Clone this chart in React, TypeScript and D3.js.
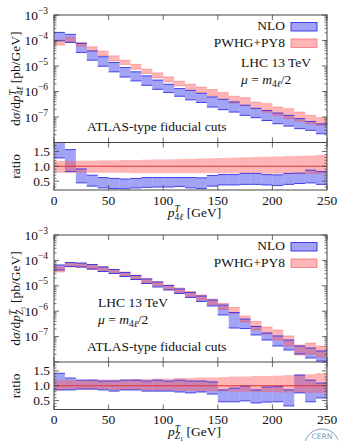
import React from "react";
import * as d3 from "d3";

/* ------------------------------------------------------------------ */
/*  Data (bins of 10 GeV)                     */
/* ------------------------------------------------------------------ */

const binEdges = [0, 10, 20, 30, 40, 50, 60, 70, 80, 90, 100, 110, 120, 130, 140, 150, 160, 170, 180, 190, 200, 210, 220, 230, 240, 250];

// pT of the 4-lepton system
const nloHi4l = [2.08e-4, 1.74e-4, 7.7e-5, 3.9e-5, 2.3e-5, 1.37e-5, 8.7e-6, 5.9e-6, 4.1e-6, 2.8e-6, 1.92e-6, 1.3e-6, 1.11e-6, 8.5e-7, 6.1e-7, 4.9e-7, 3.9e-7, 2.9e-7, 2.2e-7, 1.8e-7, 1.43e-7, 1.16e-7, 8.6e-8, 6.7e-8, 5.4e-8];
const nloLo4l = [9.7e-5, 8.4e-5, 3.4e-5, 1.69e-5, 9.8e-6, 5.9e-6, 3.7e-6, 2.6e-6, 1.75e-6, 1.22e-6, 9.1e-7, 6.5e-7, 4.7e-7, 3.7e-7, 2.45e-7, 1.94e-7, 1.56e-7, 1.16e-7, 9.4e-8, 7.3e-8, 5.45e-8, 4.4e-8, 3.5e-8, 3.0e-8, 2.2e-8];
const pwHi4l = [1.04e-4, 1.32e-4, 8.4e-5, 5.65e-5, 3.83e-5, 2.5e-5, 1.69e-5, 1.15e-5, 7.5e-6, 5.35e-6, 3.72e-6, 2.52e-6, 1.92e-6, 1.5e-6, 1.19e-6, 9.1e-7, 6.5e-7, 5.75e-7, 3.86e-7, 3.34e-7, 2.45e-7, 2.12e-7, 1.56e-7, 1.16e-7, 9.4e-8];
const pwLo4l = [6.6e-5, 8.4e-5, 6.0e-5, 3.83e-5, 2.5e-5, 1.59e-5, 1.15e-5, 7.5e-6, 5.07e-6, 3.4e-6, 2.37e-6, 1.65e-6, 1.22e-6, 9.1e-7, 6.5e-7, 5.25e-7, 3.53e-7, 2.86e-7, 2.12e-7, 1.56e-7, 1.16e-7, 8.6e-8, 6.9e-8, 5.45e-8, 4.67e-8];
const nloRatioHi4l = [1.95, 1.56, 0.91, 0.7, 0.62, 0.59, 0.57, 0.59, 0.62, 0.62, 0.62, 0.62, 0.62, 0.61, 0.69, 0.72, 0.72, 0.76, 0.76, 0.72, 0.71, 0.76, 0.77, 0.87, 0.82];
const nloRatioLo4l = [1.28, 0.82, 0.44, 0.33, 0.27, 0.25, 0.24, 0.27, 0.29, 0.3, 0.3, 0.32, 0.27, 0.25, 0.33, 0.37, 0.37, 0.39, 0.39, 0.37, 0.35, 0.39, 0.42, 0.44, 0.39];
const pwRatioHi4l = [1.18, 1.18, 1.19, 1.19, 1.2, 1.2, 1.21, 1.21, 1.22, 1.23, 1.23, 1.24, 1.25, 1.26, 1.27, 1.28, 1.29, 1.3, 1.31, 1.32, 1.33, 1.34, 1.35, 1.36, 1.38];
const pwRatioLo4l = [0.78, 0.78, 0.78, 0.78, 0.78, 0.78, 0.78, 0.77, 0.77, 0.77, 0.77, 0.77, 0.77, 0.77, 0.77, 0.76, 0.76, 0.76, 0.76, 0.75, 0.75, 0.75, 0.74, 0.74, 0.73];

// pT of the leading Z boson
const nloHiZ1 = [6.6e-5, 8.3e-5, 7.9e-5, 6.9e-5, 5.5e-5, 4.4e-5, 3.34e-5, 2.55e-5, 1.85e-5, 1.41e-5, 1.03e-5, 7.5e-6, 5.45e-6, 3.97e-6, 2.76e-6, 1.75e-6, 8.9e-7, 4.9e-7, 2.5e-7, 1.39e-7, 1.06e-7, 7.35e-8, 4.27e-8, 3.56e-8, 2.71e-8];
const nloLoZ1 = [4.19e-5, 5.75e-5, 5.5e-5, 4.58e-5, 3.66e-5, 3.05e-5, 2.32e-5, 1.77e-5, 1.23e-5, 8.97e-6, 6.84e-6, 4.98e-6, 3.46e-6, 2.41e-6, 1.6e-6, 7.1e-7, 2.18e-7, 2.08e-7, 1.16e-7, 7.35e-8, 4.27e-8, 2.97e-8, 2.07e-8, 1.44e-8, 1.09e-8];
const pwHiZ1 = [5.5e-5, 7.9e-5, 7.55e-5, 6.59e-5, 5.75e-5, 4.38e-5, 3.49e-5, 2.66e-5, 1.94e-5, 1.48e-5, 1.07e-5, 8.19e-6, 5.97e-6, 4.35e-6, 3.02e-6, 2.01e-6, 1.4e-6, 6.47e-7, 3.93e-7, 2.39e-7, 1.82e-7, 1.06e-7, 4.67e-8, 5.6e-8, 4.27e-8];
const pwLoZ1 = [3.49e-5, 5.5e-5, 5.25e-5, 4.38e-5, 3.83e-5, 3.05e-5, 2.43e-5, 1.85e-5, 1.29e-5, 9.8e-6, 7.15e-6, 5.45e-6, 3.79e-6, 2.76e-6, 1.84e-6, 1.17e-6, 8.11e-7, 3.76e-7, 1.82e-7, 1.26e-7, 7.35e-8, 4.27e-8, 1.89e-8, 2.07e-8, 1.57e-8];
const nloRatioHiZ1 = [1.42, 1.26, 1.19, 1.19, 1.16, 1.16, 1.19, 1.19, 1.16, 1.19, 1.16, 1.19, 1.16, 1.16, 1.13, 0.86, 0.92, 0.99, 0.86, 0.96, 0.97, 0.86, 1.36, 1.19, 1.09];
const nloRatioLoZ1 = [0.86, 0.86, 0.89, 0.89, 0.86, 0.82, 0.86, 0.86, 0.82, 0.82, 0.82, 0.79, 0.76, 0.79, 0.72, 0.46, 0.46, 0.49, 0.42, 0.45, 0.46, 0.32, 0.76, 0.46, 0.59];
const pwRatioHiZ1 = [1.19, 1.19, 1.19, 1.21, 1.21, 1.21, 1.21, 1.23, 1.23, 1.24, 1.24, 1.26, 1.26, 1.28, 1.28, 1.29, 1.31, 1.31, 1.33, 1.33, 1.34, 1.36, 1.38, 1.39, 1.43];
const pwRatioLoZ1 = [0.84, 0.86, 0.86, 0.86, 0.86, 0.85, 0.85, 0.85, 0.84, 0.84, 0.84, 0.83, 0.83, 0.82, 0.82, 0.81, 0.8, 0.8, 0.79, 0.79, 0.78, 0.77, 0.77, 0.76, 0.76];

const xTicks = [0, 50, 100, 150, 200, 250];
const logTickExps = [-7, -6, -5, -4, -3];
const ratioTicks = [0.5, 1.0, 1.5];
const ratioMinor = [0.3, 0.4, 0.6, 0.7, 0.8, 0.9, 1.1, 1.2, 1.3, 1.4, 1.6, 1.7];

/* ------------------------------------------------------------------ */
/*  Layout / style                                                    */
/* ------------------------------------------------------------------ */

const W = 338;
const H = 441;
const FONT = "'Liberation Serif', 'Times New Roman', serif";
const FS = 13.5;
const SS = 9.5;
const FRAME = "#444";
const BLUE_FILL = "rgba(70,70,240,0.5)";
const BLUE_EDGE = "#3232e6";
const RED_FILL = "rgba(255,90,90,0.45)";
const RED_EDGE = "rgba(240,70,70,0.5)";

const x = d3.scaleLinear().domain([0, 250]).range([54, 327]);

type Series = {
  nloHi: number[];
  nloLo: number[];
  pwHi: number[];
  pwLo: number[];
  nloRHi: number[];
  nloRLo: number[];
  pwRHi: number[];
  pwRLo: number[];
};

/** Sub/superscript decoration "^T_{4ℓ}" or "^T_{Z1}"; returns to baseline at end. */
function Decor({ obs }: { obs: "4l" | "Z1" }) {
  if (obs === "4l") {
    return (
      <>
        <tspan fontSize={SS} fontStyle="italic" dy={-4.5}>T</tspan>
        <tspan fontSize={SS} dx={-5.3} dy={7.5}>4</tspan>
        <tspan fontSize={SS} fontStyle="italic">ℓ</tspan>
        <tspan dy={-3}>{" "}</tspan>
      </>
    );
  }
  return (
    <>
      <tspan fontSize={SS} fontStyle="italic" dy={-4.5}>T</tspan>
      <tspan fontSize={SS} fontStyle="italic" dx={-5.3} dy={7.5}>Z</tspan>
      <tspan fontSize={6.5} dy={1.5}>1</tspan>
      <tspan dy={-4.5}>{" "}</tspan>
    </>
  );
}

function Panel({ id, top, mid, bottom, s, obs, lhcX, lhcY }: {
  id: string; top: number; mid: number; bottom: number; s: Series; obs: "4l" | "Z1"; lhcX: number; lhcY: number;
}) {
  const y = d3.scaleLog().domain([1e-8, 1e-3]).range([mid, top]);
  const yr = d3.scaleLinear().domain([0.2, 1.8]).range([bottom, mid]);
  const L = x(0);
  const R = x(250);
  const bins = binEdges.slice(0, -1).map((e, i) => ({ x0: x(e), x1: x(binEdges[i + 1]), i }));

  const minorLog: number[] = [];
  for (let d = -8; d < -3; d++) for (let k = 2; k <= 9; k++) minorLog.push(k * Math.pow(10, d));

  const band = (hi: number[], lo: number[], sc: (v: number) => number, fill: string) =>
    bins.map((b) => (
      <rect key={b.i} x={b.x0} width={b.x1 - b.x0} y={sc(hi[b.i])} height={sc(lo[b.i]) - sc(hi[b.i])} fill={fill} />
    ));
  const edges = (hi: number[], lo: number[], sc: (v: number) => number, stroke: string, w: number) =>
    bins.map((b) => (
      <g key={b.i}>
        <line x1={b.x0} x2={b.x1} y1={sc(hi[b.i])} y2={sc(hi[b.i])} stroke={stroke} strokeWidth={w} />
        <line x1={b.x0} x2={b.x1} y1={sc(lo[b.i])} y2={sc(lo[b.i])} stroke={stroke} strokeWidth={w} />
      </g>
    ));

  return (
    <g fontFamily={FONT} fontSize={FS} fill="#111">
      <defs>
        <clipPath id={`${id}-main`}><rect x={L} y={top} width={R - L} height={mid - top} /></clipPath>
        <clipPath id={`${id}-ratio`}><rect x={L} y={mid} width={R - L} height={bottom - mid} /></clipPath>
      </defs>

      {/* Main panel bands */}
      <g clipPath={`url(#${id}-main)`}>
        {band(s.nloHi, s.nloLo, y, BLUE_FILL)}
        {band(s.pwHi, s.pwLo, y, RED_FILL)}
        {edges(s.pwHi, s.pwLo, y, RED_EDGE, 0.7)}
        {edges(s.nloHi, s.nloLo, y, BLUE_EDGE, 0.9)}
      </g>

      {/* Ratio panel bands */}
      <g clipPath={`url(#${id}-ratio)`}>
        {band(s.nloRHi, s.nloRLo, yr, BLUE_FILL)}
        {band(s.pwRHi, s.pwRLo, yr, RED_FILL)}
        {edges(s.nloRHi, s.nloRLo, yr, BLUE_EDGE, 0.9)}
        <line x1={L} x2={R} y1={yr(1)} y2={yr(1)} stroke="#e03535" strokeWidth={1} />
      </g>

      {/* Frames */}
      <rect x={L} y={top} width={R - L} height={bottom - top} fill="none" stroke={FRAME} strokeWidth={1} />
      <line x1={L} x2={R} y1={mid} y2={mid} stroke={FRAME} strokeWidth={1} />

      {/* Log y ticks */}
      {logTickExps.concat([-8]).map((e) => {
        const yy = y(Math.pow(10, e));
        return (
          <g key={e} stroke={FRAME} strokeWidth={0.8}>
            <line x1={L} x2={L + 5} y1={yy} y2={yy} />
            <line x1={R} x2={R - 5} y1={yy} y2={yy} />
          </g>
        );
      })}
      {minorLog.map((v) => {
        const yy = y(v);
        return (
          <g key={v} stroke={FRAME} strokeWidth={0.7}>
            <line x1={L} x2={L + 2.5} y1={yy} y2={yy} />
            <line x1={R} x2={R - 2.5} y1={yy} y2={yy} />
          </g>
        );
      })}
      {logTickExps.map((e) => (
        <text key={e} x={48} y={y(Math.pow(10, e)) + 4.5} textAnchor="end">
          10<tspan fontSize={SS} dy={-6}>{`−${-e}`}</tspan>
        </text>
      ))}

      {/* Ratio y ticks */}
      {ratioTicks.map((t) => (
        <g key={t}>
          <line x1={L} x2={L + 5} y1={yr(t)} y2={yr(t)} stroke={FRAME} strokeWidth={0.8} />
          <line x1={R} x2={R - 5} y1={yr(t)} y2={yr(t)} stroke={FRAME} strokeWidth={0.8} />
          <text x={50} y={yr(t) + 4.5} textAnchor="end">{t.toFixed(1)}</text>
        </g>
      ))}
      {ratioMinor.map((t) => (
        <g key={t} stroke={FRAME} strokeWidth={0.7}>
          <line x1={L} x2={L + 2.5} y1={yr(t)} y2={yr(t)} />
          <line x1={R} x2={R - 2.5} y1={yr(t)} y2={yr(t)} />
        </g>
      ))}

      {/* X ticks */}
      {xTicks.map((t) => (
        <g key={t}>
          <g stroke={FRAME} strokeWidth={0.8}>
            <line x1={x(t)} x2={x(t)} y1={top} y2={top + 5} />
            <line x1={x(t)} x2={x(t)} y1={mid} y2={mid - 5} />
            <line x1={x(t)} x2={x(t)} y1={mid} y2={mid + 5} />
            <line x1={x(t)} x2={x(t)} y1={bottom} y2={bottom - 5} />
          </g>
          <text x={x(t)} y={bottom + 14.5} textAnchor="middle">{t}</text>
        </g>
      ))}

      {/* Axis titles */}
      <text x={(L + R) / 2 + 4} y={bottom + 26.5} textAnchor="middle">
        <tspan fontStyle="italic">p</tspan>
        <Decor obs={obs} />
        [GeV]
      </text>
      <text transform={`translate(20,${(top + mid) / 2}) rotate(-90)`} textAnchor="middle">
        d<tspan fontStyle="italic">σ</tspan>/d<tspan fontStyle="italic">p</tspan>
        <Decor obs={obs} />
        [pb/GeV]
      </text>
      <text transform={`translate(20,${(mid + bottom) / 2}) rotate(-90)`} textAnchor="middle">ratio</text>

      {/* Legend */}
      <text x={285} y={top + 15} textAnchor="end">NLO</text>
      <rect x={291} y={top + 7.5} width={26} height={8.5} fill={BLUE_FILL} stroke={BLUE_EDGE} strokeWidth={0.9} />
      <text x={285} y={top + 31.5} textAnchor="end">PWHG+PY8</text>
      <rect x={291} y={top + 24} width={26} height={8.5} fill={RED_FILL} stroke="rgba(240,90,90,0.7)" strokeWidth={0.9} />

      {/* Annotations */}
      <text x={lhcX} y={lhcY}>LHC 13 TeV</text>
      <text x={lhcX} y={lhcY + 17}>
        <tspan fontStyle="italic">μ</tspan>
        {" = "}
        <tspan fontStyle="italic">m</tspan>
        <tspan fontSize={SS} dy={3}>4</tspan>
        <tspan fontSize={SS} fontStyle="italic">ℓ</tspan>
        <tspan dy={-3}>/2</tspan>
      </text>
      <text x={87} y={mid - 11.5}>ATLAS-type fiducial cuts</text>
    </g>
  );
}

export default function App() {
  const s4l: Series = {
    nloHi: nloHi4l, nloLo: nloLo4l, pwHi: pwHi4l, pwLo: pwLo4l,
    nloRHi: nloRatioHi4l, nloRLo: nloRatioLo4l, pwRHi: pwRatioHi4l, pwRLo: pwRatioLo4l,
  };
  const sZ1: Series = {
    nloHi: nloHiZ1, nloLo: nloLoZ1, pwHi: pwHiZ1, pwLo: pwLoZ1,
    nloRHi: nloRatioHiZ1, nloRLo: nloRatioLoZ1, pwRHi: pwRatioHiZ1, pwRLo: pwRatioLoZ1,
  };
  return (
    <svg
      width={W}
      height={H}
      viewBox={`0 0 ${W} ${H}`}
      style={{ position: "fixed", left: 0, top: 0, background: "#fff" }}
    >
      <Panel id="p1" top={15} mid={142.5} bottom={190} s={s4l} obs="4l" lhcX={241} lhcY={67} />
      <Panel id="p2" top={235} mid={362} bottom={409.5} s={sZ1} obs="Z1" lhcX={98} lhcY={307} />

      {/* CERN watermark */}
      <ellipse cx={322} cy={445} rx={17} ry={16} fill="#fff" stroke="#7d9bc4" strokeWidth={1} />
      <text x={322} y={439} textAnchor="middle" fontFamily="'DejaVu Sans', sans-serif" fontSize={7.5} fill="#7d9bc4">CERN</text>
    </svg>
  );
}
